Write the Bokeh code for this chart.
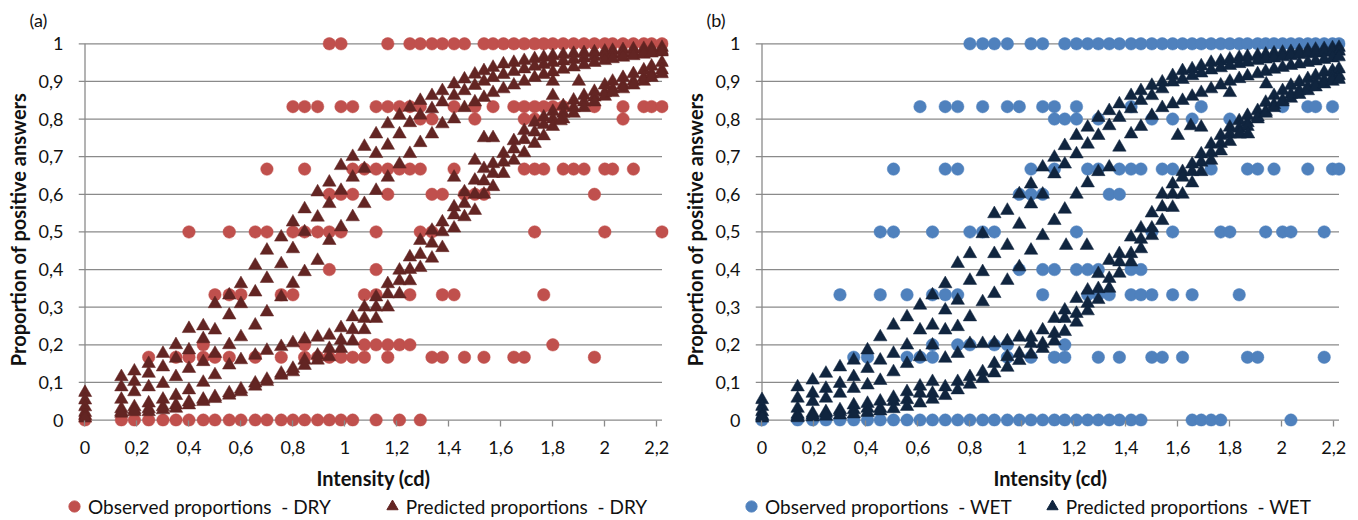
from bokeh.plotting import figure
from bokeh.layouts import row, column
from bokeh.models import (FixedTicker, CustomJSTickFormatter, Legend, LegendItem, Range1d)
from bokeh.embed import file_html
from bokeh.resources import INLINE

# ---------------- data ----------------
# observed proportion levels (row values) shared by both panels
LEVELS = [1.0, 0.833, 0.8, 0.667, 0.6, 0.5, 0.4, 0.333, 0.2, 0.167, 0.0]

# panel (a) DRY - observed: intensities at each proportion level
dry_obs_100 = [0.94, 0.985, 1.165, 1.25, 1.29, 1.335, 1.375, 1.42, 1.46, 1.535, 1.57, 1.61, 1.65, 1.69,
               1.73, 1.765, 1.80, 1.84, 1.88, 1.92, 1.96, 2.00, 2.03, 2.07, 2.11, 2.15, 2.18, 2.22]
dry_obs_083 = [0.80, 0.845, 0.895, 0.985, 1.03, 1.12, 1.165, 1.21, 1.25, 1.29, 1.42, 1.50, 1.57, 1.65,
               1.69, 1.73, 1.765, 1.80, 1.84, 1.96, 2.07, 2.15, 2.18, 2.22]
dry_obs_080 = [1.29, 1.335, 1.50, 1.69, 1.73, 2.07]
dry_obs_067 = [0.70, 0.845, 1.03, 1.075, 1.12, 1.165, 1.21, 1.25, 1.29, 1.42, 1.69, 1.73, 1.765, 1.84,
               1.88, 1.92, 2.00, 2.03, 2.11]
dry_obs_060 = [0.94, 0.985, 1.03, 1.165, 1.335, 1.375, 1.46, 1.50, 1.535, 1.96]
dry_obs_050 = [0.40, 0.555, 0.655, 0.70, 0.80, 0.845, 0.895, 0.94, 0.985, 1.12, 1.29, 1.335, 1.73,
               2.00, 2.22]
dry_obs_040 = [0.94, 1.12]
dry_obs_033 = [0.50, 0.555, 0.60, 0.755, 0.80, 1.075, 1.12, 1.25, 1.375, 1.42, 1.765]
dry_obs_020 = [0.455, 0.845, 1.075, 1.12, 1.165, 1.21, 1.25, 1.80]
dry_obs_017 = [0.245, 0.35, 0.40, 0.455, 0.50, 0.555, 0.655, 0.755, 0.845, 0.895, 0.94, 0.985, 1.03,
               1.075, 1.165, 1.335, 1.375, 1.46, 1.535, 1.65, 1.69, 1.96]
dry_obs_000 = [0, 0.14, 0.19, 0.245, 0.30, 0.35, 0.40, 0.455, 0.50, 0.555, 0.60, 0.655, 0.70, 0.755,
               0.80, 0.845, 0.895, 0.94, 0.985, 1.03, 1.12, 1.21, 1.29]

# panel (a) DRY - predicted
dry_intensity = [0, 0.14, 0.19, 0.245, 0.30, 0.35, 0.40, 0.455, 0.50, 0.555,
                 0.60, 0.655, 0.70, 0.755, 0.80, 0.845, 0.895, 0.94, 0.985, 1.03,
                 1.075, 1.12, 1.165, 1.21, 1.25, 1.29, 1.335, 1.375, 1.42, 1.46,
                 1.50, 1.535, 1.57, 1.61, 1.65, 1.69, 1.73, 1.765, 1.80, 1.84,
                 1.88, 1.92, 1.96, 2.00, 2.03, 2.07, 2.11, 2.15, 2.18, 2.22]
dry_pred_1 = [0.073, 0.115, 0.13, 0.15, 0.177, 0.2, 0.243, 0.25, 0.309, 0.332,
              0.362, 0.411, 0.451, 0.486, 0.526, 0.561, 0.606, 0.632, 0.676, 0.70,
              0.727, 0.76, 0.787, 0.81, 0.831, 0.849, 0.862, 0.875, 0.893, 0.906,
              0.919, 0.928, 0.937, 0.946, 0.95, 0.955, 0.96, 0.964, 0.968, 0.971,
              0.974, 0.976, 0.978, 0.98, 0.982, 0.984, 0.986, 0.987, 0.988, 0.99]
dry_pred_2 = [0.053, 0.088, 0.102, 0.124, 0.141, 0.164, 0.186, 0.216, 0.239, 0.279,
              0.309, 0.34, 0.376, 0.415, 0.455, 0.50, 0.539, 0.575, 0.61, 0.645,
              0.668, 0.708, 0.73, 0.76, 0.79, 0.81, 0.827, 0.845, 0.862, 0.875,
              0.889, 0.90, 0.91, 0.918, 0.926, 0.933, 0.94, 0.945, 0.95, 0.954,
              0.958, 0.962, 0.965, 0.968, 0.971, 0.974, 0.976, 0.978, 0.98, 0.982]
dry_pred_3 = [0.035, 0.055, 0.075, 0.088, 0.097, 0.115, 0.137, 0.155, 0.177, 0.2,
              0.221, 0.252, 0.287, 0.327, 0.363, 0.394, 0.424, 0.477, 0.513, 0.54,
              0.575, 0.61, 0.645, 0.68, 0.708, 0.737, 0.76, 0.787, 0.80, 0.83,
              0.845, 0.857, 0.87, 0.88, 0.89, 0.90, 0.91, 0.918, 0.925, 0.932,
              0.938, 0.944, 0.95, 0.955, 0.96, 0.964, 0.968, 0.972, 0.975, 0.978]
dry_pred_4 = [0.02, 0.03, 0.035, 0.045, 0.055, 0.065, 0.08, 0.1, 0.12, 0.146,
              0.16, 0.172, 0.185, 0.195, 0.205, 0.215, 0.22, 0.225, 0.245, 0.274,
              0.30, 0.327, 0.362, 0.398, 0.433, 0.477, 0.504, 0.526, 0.566, 0.606,
              0.637, 0.668, 0.681, 0.708, 0.742, 0.769, 0.791, 0.805, 0.82, 0.835,
              0.85, 0.862, 0.873, 0.89, 0.90, 0.91, 0.92, 0.93, 0.94, 0.95]
dry_pred_5 = [0.012, 0.022, 0.027, 0.03, 0.035, 0.04, 0.048, 0.055, 0.062, 0.072,
              0.082, 0.098, 0.108, 0.124, 0.137, 0.159, 0.172, 0.19, 0.212, 0.24,
              0.27, 0.30, 0.335, 0.37, 0.40, 0.44, 0.47, 0.50, 0.545, 0.575,
              0.60, 0.635, 0.655, 0.685, 0.72, 0.745, 0.765, 0.785, 0.80, 0.815,
              0.83, 0.845, 0.858, 0.87, 0.88, 0.89, 0.90, 0.91, 0.92, 0.93]
dry_pred_6 = [0.005, 0.018, 0.022, 0.022, 0.027, 0.031, 0.04, 0.049, 0.057, 0.066,
              0.075, 0.09, 0.102, 0.119, 0.128, 0.145, 0.159, 0.168, 0.19, 0.21,
              0.24, 0.27, 0.30, 0.335, 0.37, 0.405, 0.43, 0.458, 0.51, 0.54,
              0.557, 0.60, 0.62, 0.655, 0.69, 0.71, 0.735, 0.755, 0.78, 0.80,
              0.815, 0.83, 0.845, 0.86, 0.87, 0.88, 0.89, 0.90, 0.91, 0.92]
dry_extra_x = [1.42, 1.50, 1.535, 1.57, 1.80, 1.80, 1.90, 1.83]
dry_extra_y = [0.645, 0.69, 0.75, 0.75, 0.862, 0.90, 0.90, 0.795]

# panel (b) WET - observed
wet_obs_100 = [0.80, 0.849, 0.894, 0.944, 1.035, 1.08, 1.165, 1.21, 1.253, 1.294, 1.336, 1.375, 1.42,
               1.458, 1.50, 1.54, 1.58, 1.618, 1.655, 1.69, 1.728, 1.765, 1.80, 1.836, 1.868, 1.907,
               1.938, 1.97, 2.003, 2.035, 2.067, 2.10, 2.13, 2.163, 2.195, 2.22]
wet_obs_083 = [0.608, 0.705, 0.753, 0.849, 0.944, 0.99, 1.08, 1.125, 1.21, 1.42, 1.69, 2.003, 2.10,
               2.13, 2.195]
wet_obs_080 = [1.125, 1.165, 1.21, 1.294, 1.50, 1.58, 1.655, 1.80]
wet_obs_067 = [0.506, 0.705, 0.753, 1.035, 1.125, 1.253, 1.294, 1.375, 1.42, 1.458, 1.54, 1.58, 1.728,
               1.868, 1.907, 1.97, 2.10, 2.195, 2.22]
wet_obs_060 = [0.99, 1.035, 1.08, 1.336, 1.375]
wet_obs_050 = [0.455, 0.506, 0.656, 0.80, 0.849, 0.894, 1.21, 1.50, 1.58, 1.765, 1.80, 1.938, 2.003,
               2.035, 2.163]
wet_obs_040 = [0.99, 1.08, 1.125, 1.21, 1.253, 1.294, 1.42, 1.458]
wet_obs_033 = [0.30, 0.455, 0.558, 0.656, 0.705, 0.753, 1.08, 1.253, 1.294, 1.336, 1.42, 1.458, 1.50,
               1.58, 1.655, 1.836]
wet_obs_020 = [0.656, 0.753, 0.80, 0.894, 0.944, 1.165]
wet_obs_017 = [0.353, 0.406, 0.558, 0.608, 0.656, 0.944, 1.035, 1.125, 1.165, 1.294, 1.375, 1.50, 1.54,
               1.618, 1.868, 1.907, 2.163]
wet_obs_000 = [0, 0.137, 0.195, 0.246, 0.30, 0.353, 0.406, 0.455, 0.506, 0.558, 0.608, 0.656, 0.705,
               0.753, 0.80, 0.849, 0.894, 0.944, 0.99, 1.035, 1.08, 1.125, 1.165, 1.21, 1.253, 1.294,
               1.336, 1.375, 1.42, 1.458, 1.655, 1.69, 1.728, 1.765, 2.035]

# panel (b) WET - predicted
wet_intensity = [0, 0.137, 0.195, 0.246, 0.30, 0.353, 0.406, 0.455, 0.506, 0.558,
                 0.608, 0.656, 0.705, 0.753, 0.80, 0.849, 0.894, 0.944, 0.99, 1.035,
                 1.08, 1.125, 1.165, 1.21, 1.253, 1.294, 1.336, 1.375, 1.42, 1.458,
                 1.50, 1.54, 1.58, 1.618, 1.655, 1.69, 1.728, 1.765, 1.80, 1.836,
                 1.868, 1.907, 1.938, 1.97, 2.003, 2.035, 2.067, 2.10, 2.13, 2.163,
                 2.195, 2.22]
wet_pred_1 = [0.054, 0.088, 0.106, 0.124, 0.141, 0.159, 0.186, 0.221, 0.252, 0.274,
              0.305, 0.332, 0.362, 0.416, 0.442, 0.495, 0.548, 0.557, 0.601, 0.627,
              0.672, 0.698, 0.729, 0.756, 0.778, 0.804, 0.822, 0.84, 0.862, 0.875,
              0.889, 0.898, 0.915, 0.928, 0.933, 0.941, 0.95, 0.954, 0.959, 0.963,
              0.966, 0.969, 0.972, 0.975, 0.977, 0.979, 0.981, 0.983, 0.985, 0.987,
              0.989, 0.99]
wet_pred_2 = [0.036, 0.058, 0.071, 0.084, 0.097, 0.115, 0.137, 0.159, 0.177, 0.199,
              0.239, 0.252, 0.292, 0.318, 0.371, 0.394, 0.442, 0.464, 0.52, 0.574,
              0.60, 0.654, 0.68, 0.707, 0.733, 0.756, 0.782, 0.804, 0.827, 0.849,
              0.862, 0.88, 0.898, 0.905, 0.915, 0.922, 0.93, 0.936, 0.942, 0.947,
              0.951, 0.955, 0.959, 0.962, 0.965, 0.968, 0.971, 0.973, 0.975, 0.977,
              0.979, 0.98]
wet_pred_3 = [0.022, 0.031, 0.049, 0.058, 0.071, 0.084, 0.093, 0.105, 0.128, 0.15,
              0.168, 0.199, 0.239, 0.248, 0.274, 0.314, 0.336, 0.371, 0.407, 0.451,
              0.49, 0.53, 0.56, 0.60, 0.63, 0.66, 0.672, 0.725, 0.76, 0.78,
              0.809, 0.83, 0.84, 0.849, 0.86, 0.87, 0.88, 0.89, 0.90, 0.907,
              0.914, 0.92, 0.926, 0.932, 0.937, 0.942, 0.946, 0.95, 0.954, 0.958,
              0.962, 0.965]
wet_pred_4 = [0.012, 0.015, 0.018, 0.022, 0.027, 0.04, 0.044, 0.05, 0.06, 0.075,
              0.09, 0.102, 0.164, 0.177, 0.203, 0.203, 0.205, 0.21, 0.22, 0.22,
              0.239, 0.27, 0.292, 0.323, 0.345, 0.389, 0.424, 0.442, 0.486, 0.51,
              0.55, 0.60, 0.627, 0.66, 0.68, 0.707, 0.733, 0.756, 0.778, 0.795,
              0.809, 0.822, 0.844, 0.862, 0.875, 0.889, 0.898, 0.907, 0.915, 0.924,
              0.928, 0.933]
wet_pred_5 = [0.009, 0.009, 0.013, 0.018, 0.022, 0.027, 0.031, 0.031, 0.049, 0.054,
              0.071, 0.071, 0.088, 0.102, 0.115, 0.128, 0.15, 0.168, 0.177, 0.203,
              0.203, 0.23, 0.27, 0.283, 0.31, 0.349, 0.376, 0.42, 0.442, 0.48,
              0.51, 0.566, 0.60, 0.645, 0.66, 0.685, 0.71, 0.735, 0.76, 0.775,
              0.79, 0.805, 0.82, 0.838, 0.85, 0.865, 0.875, 0.885, 0.895, 0.903,
              0.91, 0.915]
wet_pred_6 = [0.005, 0.006, 0.008, 0.01, 0.013, 0.016, 0.02, 0.024, 0.03, 0.036,
              0.045, 0.055, 0.065, 0.08, 0.095, 0.11, 0.125, 0.14, 0.158, 0.175,
              0.19, 0.21, 0.235, 0.26, 0.29, 0.32, 0.35, 0.39, 0.42, 0.455,
              0.49, 0.53, 0.565, 0.60, 0.63, 0.66, 0.69, 0.715, 0.74, 0.76,
              0.78, 0.80, 0.815, 0.83, 0.845, 0.855, 0.865, 0.875, 0.885, 0.893,
              0.90, 0.905]
wet_extra_x = [1.60, 1.65, 1.69, 1.80, 1.94, 1.84, 1.87, 1.17, 1.25]
wet_extra_y = [0.756, 0.782, 0.778, 0.87, 0.893, 0.76, 0.76, 0.464, 0.464]

# axes
X_TICKS = [0, 0.2, 0.4, 0.6, 0.8, 1.0, 1.2, 1.4, 1.6, 1.8, 2.0, 2.2]
Y_TICKS = [0, 0.1, 0.2, 0.3, 0.4, 0.5, 0.6, 0.7, 0.8, 0.9, 1.0]
X_MAX = 2.22
X_LABEL = "Intensity (cd)"
Y_LABEL = "Proportion of positive answers"

FONT = "Lato"
GRID = "#8a8a8a"
TXT = "#111111"
CIRCLE_SIZE = 12.5
TRI_SIZE = 13.5


def flatten(level_lists):
    xs, ys = [], []
    for lvl, lst in zip(LEVELS, level_lists):
        xs += list(lst)
        ys += [lvl] * len(lst)
    return xs, ys


def stack(grid, curves, ex, ey):
    xs, ys = [], []
    for c in curves:
        xs += list(grid[:len(c)])
        ys += list(c[:len(grid)])
    return xs + list(ex), ys + list(ey)


fmt = CustomJSTickFormatter(code="""
    var s = (Math.round(tick*10)/10).toString();
    return s.replace('.', ',');
""")


def make_panel(tag, obs, pred, obs_color, pred_color, b_left, b_right):
    p = figure(width=679, height=492, x_range=Range1d(-0.025, 2.245),
               y_range=Range1d(-0.017, 1.03), output_backend="svg",
               toolbar_location=None, min_border_left=b_left, min_border_right=b_right,
               min_border_top=32, min_border_bottom=65)
    p.outline_line_color = None
    p.xgrid.visible = False
    p.ygrid.visible = False

    p.title.text = tag
    p.title.align = "left"
    p.title.offset = -49
    p.title.standoff = 4
    p.title.text_font = FONT
    p.title.text_font_size = "18px"
    p.title.text_font_style = "normal"
    p.title.text_color = TXT

    # horizontal gridlines (stop at the axis maximum)
    gy = Y_TICKS[1:]
    p.segment(x0=[-0.025] * len(gy), x1=[X_MAX] * len(gy), y0=gy, y1=gy,
              line_color=GRID, line_width=1.3)
    # axis lines
    p.segment(x0=[0, 0], x1=[X_MAX, 0], y0=[0, 0], y1=[0, 1],
              line_color=GRID, line_width=1.3)

    ox, oy = obs
    px, py = pred
    p.scatter(ox, oy, marker="circle", size=CIRCLE_SIZE, fill_color=obs_color,
              line_color=obs_color, line_width=0.5)
    p.scatter(px, py, marker="triangle", size=TRI_SIZE, fill_color=pred_color,
              line_color=pred_color, line_width=0.5)

    xa = p.xaxis[0]
    xa.ticker = FixedTicker(ticks=X_TICKS)
    xa.formatter = fmt
    xa.axis_line_color = None
    xa.major_tick_in = 6
    xa.major_tick_out = 0
    xa.major_tick_line_color = GRID
    xa.major_tick_line_width = 1.3
    xa.minor_tick_line_color = None
    xa.major_label_standoff = 14
    xa.major_label_text_font = FONT
    xa.major_label_text_font_size = "18px"
    xa.major_label_text_color = TXT
    xa.axis_label = X_LABEL
    xa.axis_label_text_font = FONT
    xa.axis_label_text_font_size = "20px"
    xa.axis_label_text_font_style = "bold"
    xa.axis_label_text_color = TXT
    xa.axis_label_standoff = 9

    ya = p.yaxis[0]
    ya.ticker = FixedTicker(ticks=Y_TICKS)
    ya.formatter = fmt
    ya.axis_line_color = None
    ya.major_tick_in = 0
    ya.major_tick_out = 0
    ya.minor_tick_line_color = None
    ya.major_label_standoff = 15
    ya.major_label_text_font = FONT
    ya.major_label_text_font_size = "18px"
    ya.major_label_text_color = TXT
    ya.axis_label = Y_LABEL
    ya.axis_label_text_font = FONT
    ya.axis_label_text_font_size = "20px"
    ya.axis_label_text_font_style = "bold"
    ya.axis_label_text_color = TXT
    ya.axis_label_standoff = 6
    return p


dry_obs = flatten([dry_obs_100, dry_obs_083, dry_obs_080, dry_obs_067, dry_obs_060,
                   dry_obs_050, dry_obs_040, dry_obs_033, dry_obs_020, dry_obs_017,
                   dry_obs_000])
dry_pred = stack(dry_intensity, [dry_pred_1, dry_pred_2, dry_pred_3, dry_pred_4,
                                 dry_pred_5, dry_pred_6], dry_extra_x, dry_extra_y)
wet_obs = flatten([wet_obs_100, wet_obs_083, wet_obs_080, wet_obs_067, wet_obs_060,
                   wet_obs_050, wet_obs_040, wet_obs_033, wet_obs_020, wet_obs_017,
                   wet_obs_000])
wet_pred = stack(wet_intensity, [wet_pred_1, wet_pred_2, wet_pred_3, wet_pred_4,
                                 wet_pred_5, wet_pred_6], wet_extra_x, wet_extra_y)

pa = make_panel("(a)", dry_obs, dry_pred, "#C0504D", "#632523", 78, 11)
pb = make_panel("(b)", wet_obs, wet_pred, "#4F81BD", "#10253F", 76, 13)

# legend strip under both panels (its y range lies far above the data, so the
# series drawn here only serve as legend swatches)
lf = figure(width=1358, height=28, x_range=Range1d(0, 1358), y_range=Range1d(50, 51),
            x_axis_type=None, y_axis_type=None, output_backend="svg",
            toolbar_location=None, min_border=0, min_border_left=0, min_border_right=0,
            min_border_top=0, min_border_bottom=0)
lf.outline_line_color = None


def add_legend(obs, pred, obs_color, pred_color, obs_label, pred_label, leg_x, gap):
    r1 = lf.scatter(obs[0], obs[1], marker="circle", size=CIRCLE_SIZE,
                    fill_color=obs_color, line_color=obs_color)
    r2 = lf.scatter(pred[0], pred[1], marker="triangle", size=TRI_SIZE,
                    fill_color=pred_color, line_color=pred_color)
    legend = Legend(items=[LegendItem(label=obs_label, renderers=[r1]),
                           LegendItem(label=pred_label, renderers=[r2])],
                    orientation="horizontal", location=(leg_x, 0),
                    glyph_width=28, glyph_height=28, label_standoff=0, spacing=gap,
                    padding=0, margin=0, border_line_color=None,
                    background_fill_alpha=0, label_text_font=FONT,
                    label_text_font_size="19px", label_text_color=TXT)
    lf.add_layout(legend)


add_legend(dry_obs, dry_pred, "#C0504D", "#632523",
           "Observed proportions  - DRY", "Predicted proportions  - DRY", 60, 47)
add_legend(wet_obs, wet_pred, "#4F81BD", "#10253F",
           "Observed proportions  - WET", "Predicted proportions  - WET", 737, 26)

layout = column(row(pa, pb, spacing=0), lf, spacing=0)
open("out.html", "w").write(file_html(layout, INLINE))
